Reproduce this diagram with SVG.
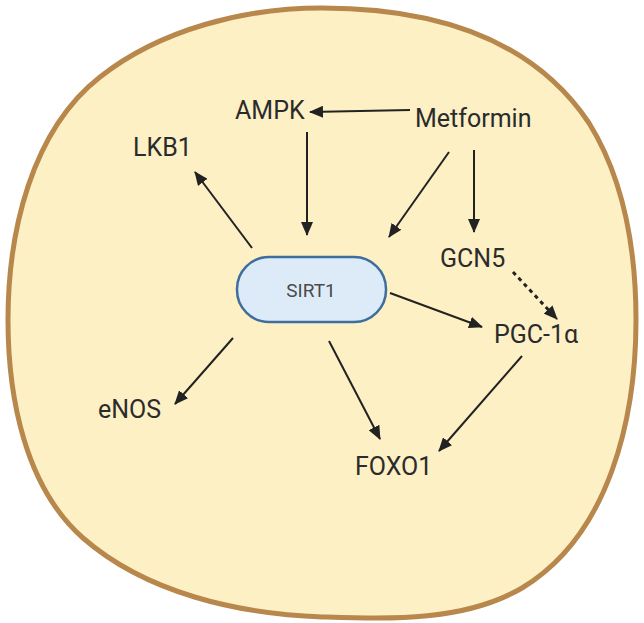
<svg xmlns="http://www.w3.org/2000/svg" width="644" height="623" viewBox="0 0 644 623">
  <style>
    .lbl { font-family: Roboto, "Liberation Sans", sans-serif; font-size: 25px; fill: #2b2b2b; }
    .sirt { font-family: Roboto, "Liberation Sans", sans-serif; font-size: 19px; fill: #4a4a4a; text-anchor: middle; }
    .edge { stroke: #222; stroke-width: 2; fill: none; marker-end: url(#ah); }
    .dash { stroke-width: 3; stroke-dasharray: 4 4; }
  </style>
  <defs>
    <marker id="ah" markerUnits="userSpaceOnUse" markerWidth="14" markerHeight="12" refX="13" refY="6" orient="auto">
      <path d="M0,0 L14,6 L0,12 Z" fill="#222"/>
    </marker>
  </defs>
  <rect width="644" height="623" fill="#ffffff"/>
  <g id="cell">
    <path d="M322,8 C430,8 530,35 589,123 C625,181 636,252 636,320 C636,417 610,535 522,588 C464,622 389,619 322,617 C238,614 146,593 83,538 C25,487 8,397 8,320 C8,233 31,131 100,77 C161,29 245,8 322,8 Z" fill="#fdf0c5" stroke="#b8874c" stroke-width="5"/>
  </g>
  <g id="connectors">
    <line class="edge" x1="410" y1="110" x2="310" y2="112"/>
    <line class="edge" x1="307" y1="132" x2="307" y2="235"/>
    <line class="edge" x1="449" y1="152" x2="389" y2="237"/>
    <line class="edge" x1="474" y1="150" x2="474" y2="232"/>
    <line class="edge dash" x1="513" y1="272" x2="557" y2="319"/>
    <line class="edge" x1="390" y1="293" x2="482" y2="327"/>
    <line class="edge" x1="252" y1="248" x2="195" y2="172"/>
    <line class="edge" x1="233" y1="338" x2="175" y2="404"/>
    <line class="edge" x1="329" y1="341" x2="380" y2="439"/>
    <line class="edge" x1="522" y1="356" x2="439" y2="451"/>
  </g>
  <g id="sirt1">
    <rect x="237" y="257" width="149" height="65" rx="32" ry="32" fill="#ddeaf8" stroke="#3d6e9e" stroke-width="2.5"/>
    <text class="sirt" x="311" y="297">SIRT1</text>
  </g>
  <g id="ampk"><text class="lbl" x="235" y="119">AMPK</text></g>
  <g id="lkb1"><text class="lbl" x="133" y="156">LKB1</text></g>
  <g id="metformin"><text class="lbl" x="415" y="127">Metformin</text></g>
  <g id="gcn5"><text class="lbl" x="440" y="267">GCN5</text></g>
  <g id="pgc1a"><text class="lbl" x="494" y="343">PGC-1α</text></g>
  <g id="enos"><text class="lbl" x="98" y="418">eNOS</text></g>
  <g id="foxo1"><text class="lbl" x="355" y="475">FOXO1</text></g>
</svg>
